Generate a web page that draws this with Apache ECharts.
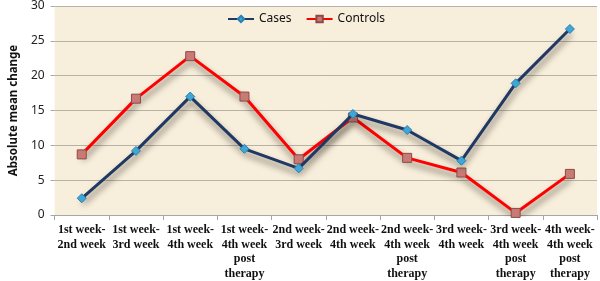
<!DOCTYPE html>
<html>
<head>
<meta charset="utf-8">
<script src="https://cdn.jsdelivr.net/npm/echarts@6/dist/echarts.min.js"></script>
<style>
  html, body { margin: 0; padding: 0; background: #fff; }
  #chart { width: 600px; height: 281px; }
</style>
</head>
<body>
<div id="chart"></div>
<script>
const categories = [
  '1st week-\n2nd week',
  '1st week-\n3rd week',
  '1st week-\n4th week',
  '1st week-\n4th week\npost\ntherapy',
  '2nd week-\n3rd week',
  '2nd week-\n4th week',
  '2nd week-\n4th week\npost\ntherapy',
  '3rd week-\n4th week',
  '3rd week-\n4th week\npost\ntherapy',
  '4th week-\n4th week\npost\ntherapy'
];
const cases = [2.4, 9.2, 17.0, 9.5, 6.7, 14.5, 12.2, 7.8, 18.9, 26.7];
const controls = [8.7, 16.7, 22.8, 17.0, 8.0, 14.0, 8.2, 6.1, 0.3, 5.9];
const yTicks = { min: 0, max: 30, interval: 5 };

const chart = echarts.init(document.getElementById('chart'));

// soft shadow under each line, like the office 3d style
const lineShadow = {
  shadowColor: 'rgba(40,30,20,0.6)',
  shadowBlur: 6,
  shadowOffsetX: 1,
  shadowOffsetY: 5
};

const option = {
  animation: false,
  grid: {
    left: 40, right: 3, top: 5, bottom: 66,
    show: true,
    backgroundColor: '#f7eedb',
    borderWidth: 0
  },
  legend: {
    top: 8,
    left: 222,
    itemWidth: 26,
    itemHeight: 8,
    itemGap: 14,
    textStyle: { fontFamily: 'Noto Sans', fontSize: 12, color: '#111' },
    data: ['Cases', 'Controls']
  },
  xAxis: {
    type: 'category',
    data: categories,
    boundaryGap: true,
    axisLine: { lineStyle: { color: '#a6a6a6', width: 1 } },
    axisTick: { show: true, length: 5, lineStyle: { color: '#a6a6a6' } },
    axisLabel: {
      interval: 0,
      margin: 8,
      fontFamily: 'Liberation Serif',
      fontWeight: 'bold',
      fontSize: 12,
      lineHeight: 14.5,
      color: '#111'
    }
  },
  yAxis: {
    type: 'value',
    min: yTicks.min,
    max: yTicks.max,
    interval: yTicks.interval,
    name: 'Absolute mean change',
    nameLocation: 'middle',
    nameGap: 31,
    nameTextStyle: { fontFamily: 'Noto Sans', fontWeight: 'bold', fontSize: 11.5, color: '#111' },
    axisLine: { show: false },
    axisTick: { show: true, length: 4, lineStyle: { color: '#a6a6a6' } },
    axisLabel: { fontFamily: 'Noto Sans', fontSize: 12, color: '#222', margin: 10 },
    splitLine: { lineStyle: { color: '#b8b2a6', width: 1 } }
  },
  series: [
    {
      name: 'Cases',
      type: 'line',
      data: cases,
      symbol: 'diamond',
      symbolSize: 9,
      z: 3,
      lineStyle: Object.assign({ color: '#1f3864', width: 3 }, lineShadow),
      itemStyle: { color: '#3fa7d6', borderColor: '#2a7fb0', borderWidth: 1 }
    },
    {
      name: 'Controls',
      type: 'line',
      data: controls,
      symbol: 'rect',
      symbolSize: 9,
      z: 2,
      lineStyle: Object.assign({ color: '#ff0000', width: 3 }, lineShadow),
      itemStyle: { color: '#c97a75', borderColor: '#8e4a46', borderWidth: 1 }
    }
  ]
};

chart.setOption(option);
</script>
</body>
</html>
